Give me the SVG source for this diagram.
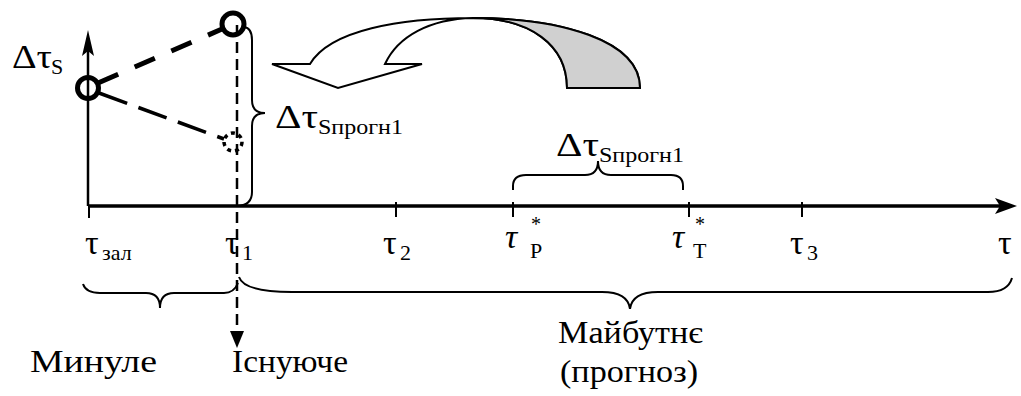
<svg xmlns="http://www.w3.org/2000/svg" width="1021" height="396" viewBox="0 0 1021 396">
  <style>
    .t{fill:#000}
    .g{font-size:34px}
    .sub{font-size:22px}
    .star{font-size:20px}
    .lbl{font-size:32px}
    .ln{stroke:#000;fill:none}
  </style>
  <rect width="1021" height="396" fill="#fff"/>

  <!-- axes -->
  <g id="axes">
    <line class="ln" x1="88" y1="206" x2="1003" y2="206" stroke-width="3.5"/>
    <path d="M1017,206 L995,198 L1000,206 L995,214 Z" fill="#000"/>
    <line class="ln" x1="88" y1="206" x2="88" y2="50" stroke-width="2.5"/>
    <path d="M88,30 L82,56 L88,51 L94,56 Z" fill="#000"/>
    <g class="ln" stroke-width="2">
      <line x1="89" y1="206" x2="89" y2="218"/>
      <line x1="396" y1="202" x2="396" y2="217"/>
      <line x1="513" y1="202" x2="513" y2="217"/>
      <line x1="689" y1="202" x2="689" y2="217"/>
      <line x1="802" y1="202" x2="802" y2="217"/>
    </g>
  </g>

  <!-- connectors -->
  <g id="connectors">
    <line class="ln" x1="98" y1="83" x2="222" y2="29" stroke-width="5" stroke-dasharray="22 18"/>
    <line class="ln" x1="99" y1="93" x2="224" y2="139" stroke-width="3.5" stroke-dasharray="30 12"/>
    <line class="ln" x1="237" y1="25" x2="237" y2="333" stroke-width="2.5" stroke-dasharray="11 6"/>
    <path d="M237,348 L230,331 L244,331 Z" fill="#000"/>
  </g>

  <!-- points -->
  <g id="point-start">
    <circle class="ln" cx="88" cy="88" r="10.5" stroke-width="5"/>
  </g>
  <g id="point-actual">
    <circle class="ln" cx="233" cy="24" r="11" stroke-width="5"/>
  </g>
  <g id="point-forecast">
    <circle class="ln" cx="233" cy="142" r="9" stroke-width="3.5" stroke-dasharray="4 4"/>
  </g>

  <!-- braces -->
  <g id="brace-forecast-vertical">
    <path class="ln" stroke-width="2" d="M244,27 Q252,28 252,40 L252,100 Q252,113 265,113 Q252,113 252,126 L252,192 Q252,205 238,206"/>
  </g>
  <g id="brace-interval">
    <path class="ln" stroke-width="2" d="M513,190 L513,186 Q513,175 526,175 L585,175 Q598,175 598,161 Q598,175 611,175 L671,175 Q683,175 683,186 L683,190"/>
  </g>
  <g id="brace-past">
    <path class="ln" stroke-width="2" d="M83,284 Q86,293 100,293 L146,293 Q160,293 160,308 Q160,293 174,293 L224,293 Q234,293 238,283"/>
  </g>
  <g id="brace-future">
    <path class="ln" stroke-width="2" d="M239,277 Q244,292 292,292 L602,292 Q628,292 630,309 Q632,292 658,292 L988,292 Q1008,292 1012,278"/>
  </g>

  <!-- curved transfer arrow: white front of the ribbon, grey back -->
  <g id="transfer-arrow">
    <path stroke="#000" stroke-width="2" fill="#fff" d="M310,64 L272,64 L338,88 L422,64 L385,64 C398,36 430,19 473,18 C530,18 567,45 567,88 L640,88 C640,40 560,18 473,18 C400,18 330,30 310,64 Z"/>
    <path stroke="#000" stroke-width="2" fill="#d0d0d0" d="M473,18 C530,18 567,45 567,88 L640,88 C640,40 560,18 473,18 Z"/>
  </g>

  <!-- labels -->
  <g id="label-dtau-s">
    <text class="t g" style="font-family:'Liberation Serif'" x="12" y="68" textLength="40" lengthAdjust="spacingAndGlyphs">Δτ</text>
    <text class="t sub" style="font-family:'Liberation Serif'" x="51" y="74">S</text>
  </g>
  <g id="label-dtau-prog-left">
    <text class="t g" style="font-family:'Liberation Serif'" x="275" y="128" textLength="43" lengthAdjust="spacingAndGlyphs">Δτ</text>
    <text class="t sub" style="font-family:'Liberation Serif'" x="318" y="134" textLength="85" lengthAdjust="spacingAndGlyphs">Sпрогн1</text>
  </g>
  <g id="label-dtau-prog-right">
    <text class="t g" style="font-family:'Liberation Serif'" x="556" y="156" textLength="43" lengthAdjust="spacingAndGlyphs">Δτ</text>
    <text class="t sub" style="font-family:'Liberation Serif'" x="599" y="162" textLength="85" lengthAdjust="spacingAndGlyphs">Sпрогн1</text>
  </g>
  <g id="tick-labels">
    <text class="t g" style="font-family:'Liberation Serif'" x="85" y="254">τ</text>
    <text class="t sub" style="font-family:'Liberation Serif'" x="102" y="260">зал</text>
    <text class="t g" style="font-family:'Liberation Serif'" x="225" y="254">τ</text>
    <text class="t sub" style="font-family:'Liberation Serif'" x="242" y="260">1</text>
    <text class="t g" style="font-family:'Liberation Serif'" x="383" y="254">τ</text>
    <text class="t sub" style="font-family:'Liberation Serif'" x="400" y="260">2</text>
    <text class="t g" style="font-family:'Liberation Serif'" x="505" y="248" font-style="italic">τ</text>
    <text class="t star" style="font-family:'Liberation Serif'" x="531" y="231">*</text>
    <text class="t sub" style="font-family:'Liberation Serif'" x="530" y="258">P</text>
    <text class="t g" style="font-family:'Liberation Serif'" x="672" y="248" font-style="italic">τ</text>
    <text class="t star" style="font-family:'Liberation Serif'" x="695" y="231">*</text>
    <text class="t sub" style="font-family:'Liberation Serif'" x="693" y="258">T</text>
    <text class="t g" style="font-family:'Liberation Serif'" x="790" y="254">τ</text>
    <text class="t sub" style="font-family:'Liberation Serif'" x="807" y="260">3</text>
    <text class="t g" style="font-family:'Liberation Serif'" x="998" y="254">τ</text>
  </g>
  <g id="region-labels">
    <text class="t lbl" style="font-family:'Liberation Serif'" x="30" y="372" textLength="127" lengthAdjust="spacingAndGlyphs">Минуле</text>
    <text class="t lbl" style="font-family:'Liberation Serif'" x="232" y="372" textLength="116" lengthAdjust="spacingAndGlyphs">Існуюче</text>
    <text class="t lbl" style="font-family:'Liberation Serif'" x="558" y="343" textLength="145" lengthAdjust="spacingAndGlyphs">Майбутнє</text>
    <text class="t lbl" style="font-family:'Liberation Serif'" x="560" y="382" textLength="138" lengthAdjust="spacingAndGlyphs">(прогноз)</text>
  </g>
</svg>
